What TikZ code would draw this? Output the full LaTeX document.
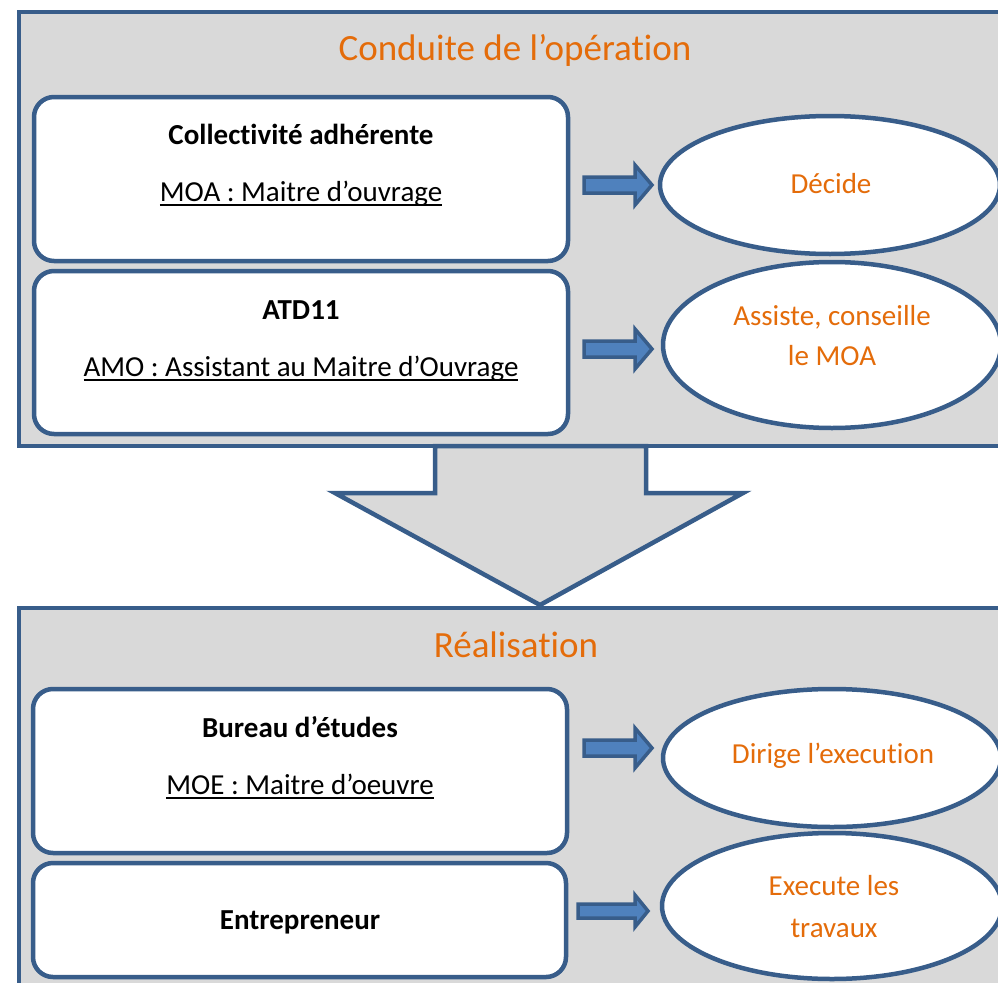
\documentclass[tikz,border=0pt]{standalone}
\usepackage{fontspec}
\setmainfont{Carlito}[Ligatures={NoCommon}]
\usetikzlibrary{shapes.geometric}
\definecolor{frameblue}{HTML}{385D8A}
\definecolor{arrowfill}{HTML}{4F81BD}
\definecolor{panelgray}{HTML}{D9D9D9}
\definecolor{labelorange}{HTML}{E46C0A}
\newcommand\ulx[1]{\setbox0=\hbox{#1}\rlap{\rule[-4.5pt]{\wd0}{1.5pt}}\box0}
\newcommand\blockarrow[6]{% x1 x2 x3 y shafthalf headhalf
  \draw[blockarr] (#1,#4-#5) -- (#2,#4-#5) -- (#2,#4-#6) -- (#3,#4)
    -- (#2,#4+#6) -- (#2,#4+#5) -- (#1,#4+#5) -- cycle;}
\tikzset{
  panel/.style={draw=frameblue, fill=panelgray, line width=4.5pt},
  roleboxshape/.style={draw=frameblue, fill=white, line width=4.5pt, rounded corners=20pt},
  taskellipse/.style={draw=frameblue, fill=white, line width=4.5pt, ellipse, inner sep=0pt},
  blockarr/.style={draw=frameblue, fill=arrowfill, line width=3.5pt, line join=miter},
  bigarr/.style={draw=frameblue, fill=panelgray, line width=4.5pt, line join=miter},
  titletxt/.style={text=labelorange, font=\fontsize{37}{44}\selectfont, anchor=base, inner sep=0pt},
  tasktxt/.style={text=labelorange, font=\fontsize{29}{35}\selectfont, anchor=base, inner sep=0pt},
  boldtxt/.style={font=\fontsize{29}{35}\selectfont\bfseries, anchor=base, inner sep=0pt},
  roletxt/.style={font=\fontsize{29}{35}\selectfont, anchor=base, inner sep=0pt},
}
\begin{document}
\begin{tikzpicture}[x=1pt, y=-1pt]
\useasboundingbox (0,0) rectangle (998,982);
\clip (0,0) rectangle (998,982);
\fill[white] (0,0) rectangle (998,982);
% panels
\draw[panel] (19,12) rectangle (1010,446);
\draw[panel] (19,608) rectangle (1010,1010);
% big down arrow
\draw[bigarr] (435,446) -- (435,493) -- (335,493) -- (540,605) -- (743,493) -- (646,493) -- (646,446) -- cycle;
% titles
\node[titletxt] (t1) at (515,60) {Conduite de l’opération};
\node[titletxt] (t2) at (516,657) {Réalisation};
% role boxes
\draw[roleboxshape] (34,97) rectangle (568,261);
\draw[roleboxshape] (34,271) rectangle (568,434);
\draw[roleboxshape] (33,689) rectangle (567,853);
\draw[roleboxshape] (33,863) rectangle (566,977);
\node[boldtxt] (b1a) at (301,144) {Collectivité adhérente};
\node[roletxt] (b1b) at (301,201) {\ulx{MOA : Maitre d’ouvrage}};
\node[boldtxt] (b2a) at (301,319) {ATD11};
\node[roletxt] (b2b) at (301,376) {\ulx{AMO : Assistant au Maitre d’Ouvrage}};
\node[boldtxt] (b3a) at (300,737) {Bureau d’études};
\node[roletxt] (b3b) at (300,794) {\ulx{MOE : Maitre d’oeuvre}};
\node[boldtxt] (b4a) at (300,929) {Entrepreneur};
% ellipses
\node[taskellipse, minimum width=340pt, minimum height=138pt] (e1) at (830,185) {};
\node[taskellipse, minimum width=338pt, minimum height=166pt] (e2) at (832,345) {};
\node[taskellipse, minimum width=338pt, minimum height=138pt] (e3) at (832,758) {};
\node[taskellipse, minimum width=340pt, minimum height=146pt] (e4) at (832,906) {};
\node[tasktxt] (e1t) at (831,193) {Décide};
\node[tasktxt] (e2t) at (832,325) {Assiste, conseille};
\node[tasktxt] (e2u) at (832,365) {le MOA};
\node[tasktxt] (e3t) at (833,763) {Dirige l’execution};
\node[tasktxt] (e4t) at (834,895) {Execute les};
\node[tasktxt] (e4u) at (834,937) {travaux};
% block arrows
\blockarrow{584}{635}{652}{185}{8}{20}
\blockarrow{584}{635}{652}{349}{8}{20}
\blockarrow{584}{635}{652}{748}{8}{20}
\blockarrow{578}{635}{648}{911}{7}{16}
\end{tikzpicture}
\end{document}
